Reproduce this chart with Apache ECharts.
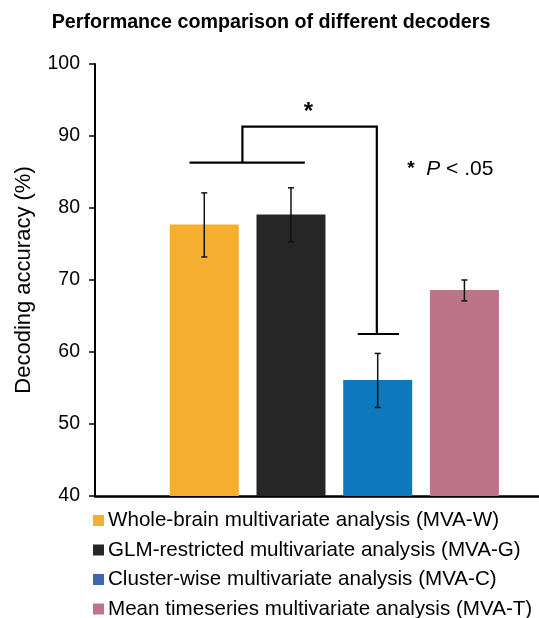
<!DOCTYPE html>
<html>
<head>
<meta charset="utf-8">
<script src="https://cdn.jsdelivr.net/npm/echarts@6/dist/echarts.min.js"></script>
<style>
  html, body { margin: 0; padding: 0; background: #fff; }
  #chart { width: 539px; height: 618px; }
</style>
</head>
<body>
<div id="chart"></div>
<script>
// 数据
const names = [
    'Whole-brain multivariate analysis (MVA-W)',
    'GLM-restricted multivariate analysis (MVA-G)',
    'Cluster-wise multivariate analysis (MVA-C)',
    'Mean timeseries multivariate analysis (MVA-T)'
];
const positions = [1, 2, 3, 4];
const accuracy = [77.7, 79.1, 56.1, 68.6];
const errLow = [73.2, 75.3, 52.3, 67.1];
const errHigh = [82.1, 82.8, 59.8, 70.0];
const yTicks = [40, 50, 60, 70, 80, 90, 100];

const barColors = ['#F5AE2D', '#262626', '#0C78BE', '#BE7488'];
const legendColors = ['#F5AE2D', '#262626', '#3E66AF', '#BE7488'];
const font = 'Liberation Sans, Arial, sans-serif';

// 显著性括号（数据坐标）
const bracket = {
    leftFrom: 0.83, leftTo: 2.16, leftY: 86.3,
    stemX: 1.44, topY: 91.3, rightX: 2.99,
    rightFrom: 2.77, rightTo: 3.245, rightY: 62.5
};

function init() {
    const chart = echarts.init(document.getElementById('chart'));

    const barSeries = names.map(function (n, i) {
        return {
            name: n,
            type: 'bar',
            barWidth: 69,
            barGap: '-100%',
            itemStyle: { color: barColors[i] },
            data: [[positions[i], accuracy[i]]],
            z: 2
        };
    });

    // 误差线
    const errorSeries = {
        type: 'custom',
        data: positions.map(function (p, i) { return [p, errLow[i], errHigh[i]]; }),
        renderItem: function (params, api) {
            const lo = api.coord([api.value(0), api.value(1)]);
            const hi = api.coord([api.value(0), api.value(2)]);
            const cap = 3;
            const style = { stroke: '#111', lineWidth: 1.5 };
            return {
                type: 'group',
                children: [
                    { type: 'line', shape: { x1: lo[0], y1: lo[1], x2: hi[0], y2: hi[1] }, style: style },
                    { type: 'line', shape: { x1: lo[0] - cap, y1: lo[1], x2: lo[0] + cap, y2: lo[1] }, style: style },
                    { type: 'line', shape: { x1: hi[0] - cap, y1: hi[1], x2: hi[0] + cap, y2: hi[1] }, style: style }
                ]
            };
        },
        z: 5
    };

    // 显著性标记
    const bracketSeries = {
        type: 'custom',
        data: [[0]],
        renderItem: function (params, api) {
            const b = bracket;
            const p1 = api.coord([b.leftFrom, b.leftY]);
            const p2 = api.coord([b.leftTo, b.leftY]);
            const s1 = api.coord([b.stemX, b.leftY]);
            const s2 = api.coord([b.stemX, b.topY]);
            const t2 = api.coord([b.rightX, b.topY]);
            const r1 = api.coord([b.rightX, b.rightY]);
            const q1 = api.coord([b.rightFrom, b.rightY]);
            const q2 = api.coord([b.rightTo, b.rightY]);
            const style = { stroke: '#000', lineWidth: 2.2, fill: null };
            const star = api.coord([2.2, 93.3]);
            const note = api.coord([3.34, 85.4]);
            return {
                type: 'group',
                children: [
                    { type: 'line', shape: { x1: p1[0], y1: p1[1], x2: p2[0], y2: p2[1] }, style: style },
                    { type: 'polyline', shape: { points: [s1, s2, t2, r1] }, style: style },
                    { type: 'line', shape: { x1: q1[0], y1: q1[1], x2: q2[0], y2: q2[1] }, style: style },
                    {
                        type: 'text', x: star[0], y: star[1],
                        style: { text: '*', fontSize: 24, fontWeight: 'bold', fontFamily: font, fill: '#000', align: 'center', verticalAlign: 'middle' }
                    },
                    {
                        type: 'text', x: note[0], y: note[1],
                        style: {
                            text: '{s|*}  {p|P} < .05',
                            fontSize: 21, fontFamily: font, fill: '#000', align: 'left', verticalAlign: 'middle',
                            rich: {
                                s: { fontSize: 19, fontWeight: 'bold', fontFamily: font },
                                p: { fontSize: 21, fontStyle: 'italic', fontFamily: font }
                            }
                        }
                    }
                ]
            };
        },
        z: 6
    };

    const option = {
        animation: false,
        title: {
            text: 'Performance comparison of different decoders',
            left: 266,
            textAlign: 'center',
            top: 8,
            textStyle: { fontSize: 19.7, fontWeight: 'bold', color: '#000', fontFamily: font }
        },
        grid: { left: 95, right: 0, top: 64, bottom: 122, outerBoundsMode: 'none', containLabel: false },
        legend: {
            orient: 'vertical',
            left: 88,
            top: 505,
            height: 200,
            itemWidth: 11,
            itemHeight: 11,
            itemGap: 8.5,
            icon: 'rect',
            textStyle: { fontSize: 20.6, color: '#000', fontFamily: font, padding: [0, 0, 0, -1] },
            data: names.map(function (n, i) { return { name: n, itemStyle: { color: legendColors[i] } }; })
        },
        xAxis: {
            type: 'value',
            min: -0.26,
            max: 4.86,
            axisLine: { show: true, onZero: false, lineStyle: { color: '#000', width: 2.5 } },
            axisTick: { show: false },
            axisLabel: { show: false },
            splitLine: { show: false }
        },
        yAxis: {
            type: 'value',
            min: yTicks[0],
            max: yTicks[yTicks.length - 1],
            interval: 10,
            name: 'Decoding accuracy (%)',
            nameLocation: 'middle',
            nameGap: 60,
            nameTextStyle: { fontSize: 22, color: '#000', fontFamily: font },
            axisLine: { show: true, onZero: false, lineStyle: { color: '#000', width: 2 } },
            axisTick: { show: true, length: 6, lineStyle: { color: '#000', width: 1.5 } },
            axisLabel: { fontSize: 19.5, color: '#000', fontFamily: font, margin: 15 },
            splitLine: { show: false }
        },
        series: barSeries.concat([errorSeries, bracketSeries])
    };

    chart.setOption(option);
}

window.addEventListener('DOMContentLoaded', init);
</script>
</body>
</html>
